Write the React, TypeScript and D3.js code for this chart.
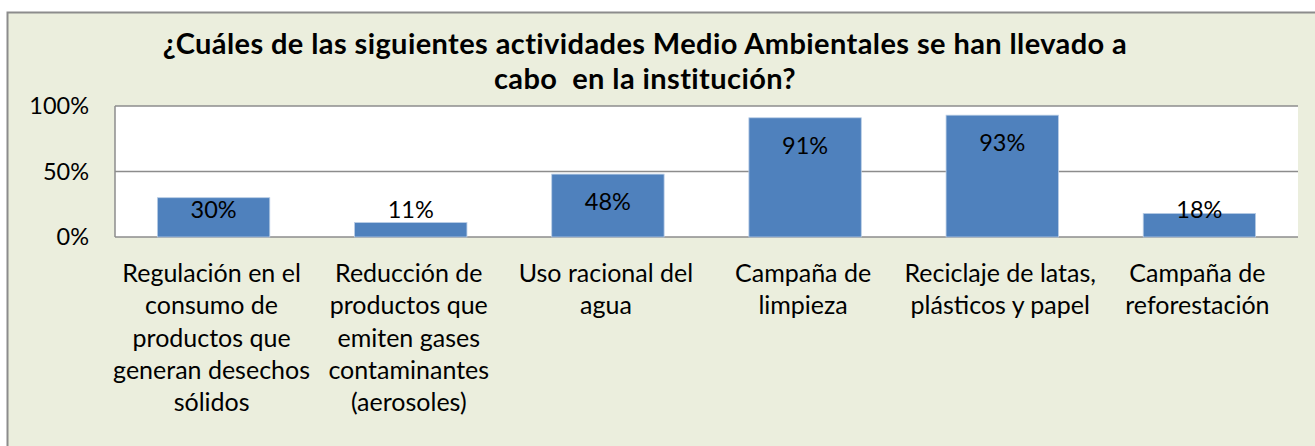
import React, { useEffect, useRef } from 'react';
import * as d3 from 'd3';

const categories = [
  ['Regulación en el', 'consumo de', 'productos que', 'generan desechos', 'sólidos'],
  ['Reducción de', 'productos que', 'emiten gases', 'contaminantes', '(aerosoles)'],
  ['Uso racional del', 'agua'],
  ['Campaña de', 'limpieza'],
  ['Reciclaje de latas,', 'plásticos y papel'],
  ['Campaña de', 'reforestación'],
];
const values = [30, 11, 48, 91, 93, 18];
const yTicks = [0, 50, 100];
const titleLines = [
  '¿Cuáles de las siguientes actividades Medio Ambientales se han llevado a',
  'cabo  en la institución?',
];

const W = 1315;
const H = 446;
const FONT = 'Lato, "Open Sans", sans-serif';

export default function App() {
  const ref = useRef<SVGSVGElement>(null);

  useEffect(() => {
    const svg = d3.select(ref.current);
    svg.selectAll('*').remove();

    const left = 115, right = 1298, top = 106, bottom = 237;

    // chart area background and border
    svg.append('rect')
      .attr('x', 7.5).attr('y', 12.5)
      .attr('width', W + 20).attr('height', H + 20)
      .attr('fill', '#ebeedd')
      .attr('stroke', '#8c8c8c')
      .attr('stroke-width', 2);

    const x = d3.scaleBand()
      .domain(values.map((_, i) => String(i)))
      .range([left, right])
      .paddingInner(0.43)
      .paddingOuter(0.215);

    const y = d3.scaleLinear().domain([0, 100]).range([bottom, top]);

    svg.append('rect')
      .attr('x', left).attr('y', top)
      .attr('width', right - left).attr('height', bottom - top)
      .attr('fill', '#ffffff');

    // gridlines
    svg.append('g')
      .selectAll('line')
      .data(yTicks)
      .enter()
      .append('line')
      .attr('x1', left).attr('x2', right)
      .attr('y1', (d) => y(d)).attr('y2', (d) => y(d))
      .attr('stroke', '#8c8c8c')
      .attr('stroke-width', 1.5);

    svg.append('line')
      .attr('x1', left).attr('x2', left)
      .attr('y1', top).attr('y2', bottom)
      .attr('stroke', '#8c8c8c')
      .attr('stroke-width', 1.5);

    // y tick labels
    svg.append('g')
      .selectAll('text')
      .data(yTicks)
      .enter()
      .append('text')
      .attr('x', 89)
      .attr('y', (d) => y(d))
      .attr('dy', '0.35em')
      .attr('text-anchor', 'end')
      .attr('font-family', FONT)
      .attr('font-size', 23.5)
      .attr('fill', '#000')
      .text((d) => `${d}%`);

    // bars
    svg.append('g')
      .selectAll('rect')
      .data(values)
      .enter()
      .append('rect')
      .attr('x', (_, i) => x(String(i)) as number)
      .attr('y', (d) => y(d))
      .attr('width', x.bandwidth())
      .attr('height', (d) => y(0) - y(d))
      .attr('fill', '#4f81bd')
      .attr('stroke', '#b9cde5')
      .attr('stroke-width', 0.8);

    // value labels
    svg.append('g')
      .selectAll('text')
      .data(values)
      .enter()
      .append('text')
      .attr('x', (_, i) => (x(String(i)) as number) + x.bandwidth() / 2)
      .attr('y', (d) => Math.min(y(d) + 28, y(0) - 27))
      .attr('dy', '0.35em')
      .attr('text-anchor', 'middle')
      .attr('font-family', FONT)
      .attr('font-size', 23.5)
      .attr('fill', '#000')
      .text((d) => `${d}%`);

    // category labels
    const cat = svg.append('g')
      .selectAll('text')
      .data(categories)
      .enter()
      .append('text')
      .attr('x', (_, i) => (x(String(i)) as number) + x.bandwidth() / 2 - 2)
      .attr('y', 282)
      .attr('text-anchor', 'middle')
      .attr('font-family', FONT)
      .attr('font-size', 25)
      .attr('fill', '#000');
    cat.selectAll('tspan')
      .data((d) => d)
      .enter()
      .append('tspan')
      .attr('x', function () {
        return (this.parentNode as SVGTextElement).getAttribute('x');
      })
      .attr('dy', (_, j) => (j === 0 ? 0 : 32.3))
      .text((d) => d);

    // title
    svg.append('g')
      .selectAll('text')
      .data(titleLines)
      .enter()
      .append('text')
      .attr('x', 645)
      .attr('y', (_, i) => 54 + i * 35)
      .attr('text-anchor', 'middle')
      .attr('font-family', FONT)
      .attr('font-weight', 'bold')
      .attr('font-size', 29)
      .attr('letter-spacing', 0.4)
      .attr('fill', '#000')
      .style('white-space', 'pre')
      .text((d) => d);
  }, []);

  return (
    <svg
      ref={ref}
      width={W}
      height={H}
      style={{ position: 'absolute', left: 0, top: 0, display: 'block' }}
    />
  );
}
